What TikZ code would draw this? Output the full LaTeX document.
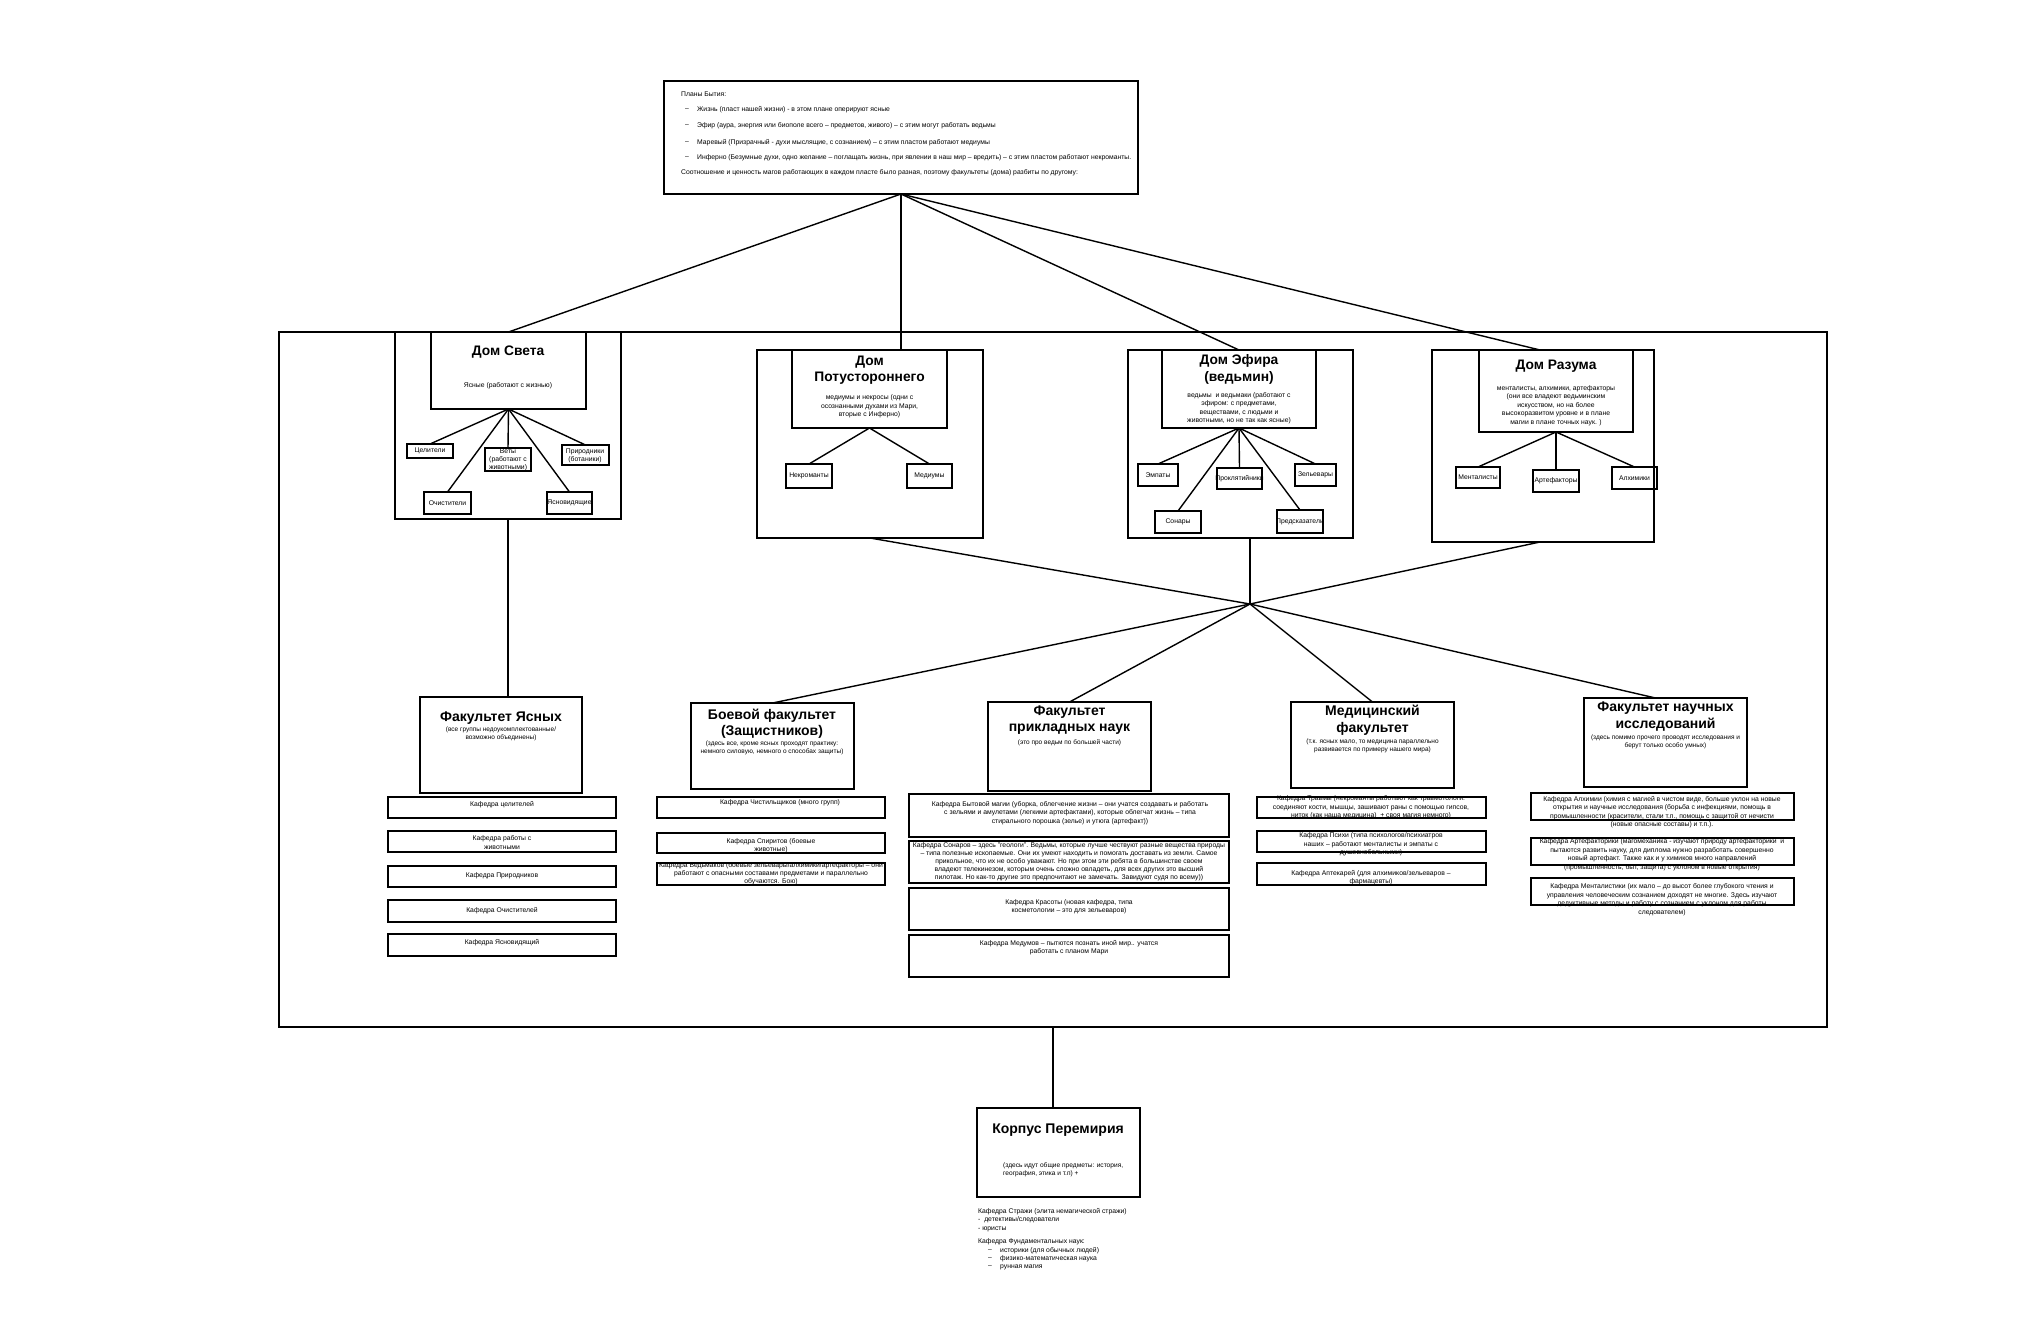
\documentclass[tikz,border=0pt]{standalone}
\usepackage{fontspec}
\setmainfont{Liberation Sans}
\tikzset{
  bx/.style={draw, line width=1.6pt, inner sep=0pt, outer sep=0pt},
  ln/.style={line width=1.4pt},
  sm/.style={font=\fontsize{6.8}{8.5}\selectfont, align=center, inner sep=0pt},
  tp/.style={font=\fontsize{6.8}{8}\selectfont, anchor=west, inner sep=0pt},
  ttl/.style={font=\fontsize{13.8}{16.5}\selectfont\bfseries, align=center, inner sep=0pt},
  ftl/.style={font=\fontsize{14}{16.5}\selectfont\bfseries, align=center, inner sep=0pt},
}
\newcommand\bx[5]{\node[bx, minimum width={(#4-#2)*1pt}, minimum height={(#5-#3)*1pt}] (#1) at ({(#2+#4)/2},{(#3+#5)/2}) {};}
\begin{document}
\begin{tikzpicture}[x=1pt,y=-1pt]
\fill[white] (0,0) rectangle (2040,1320);
\useasboundingbox (0,0) rectangle (2040,1320);

% ---------- top box ----------
\bx{top}{664}{81}{1138}{194}
\node[tp] (t1) at (681,94) {Планы Бытия:};
\node[tp] (b2) at (685,110) {–};
\node[tp] (t2) at (697,110) {Жизнь (пласт нашей жизни) - в этом плане оперируют ясные};
\node[tp] (b3) at (685,126) {–};
\node[tp] (t3) at (697,126) {Эфир (аура, энергия или биополе всего – предметов, живого) – с этим могут работать ведьмы};
\node[tp] (b4) at (685,143) {–};
\node[tp] (t4) at (697,143) {Маревый (Призрачный - духи мыслящие, с сознанием) – с этим пластом работают медиумы};
\node[tp] (b5) at (685,158) {–};
\node[tp] (t5) at (697,158) {Инферно (Безумные духи, одно желание – поглащать жизнь, при явлении в наш мир – вредить) – с этим пластом работают некроманты.};
\node[tp] (t6) at (681,173) {Соотношение и ценность магов работающих в каждом пласте было разная, поэтому факультеты (дома) разбиты по другому:};

% ---------- container ----------
\bx{cont}{279}{332}{1827}{1027}

% ---------- Дом Света ----------
\bx{sveto}{395}{332}{621}{519}
\bx{sveti}{431}{332}{586}{409}
\node[ttl] (svt) at (508,352) {Дом Света};
\node[sm] (svs) at (508,386) {Ясные (работают с жизнью)};
\bx{cel}{407}{444}{453}{458}
\bx{vet}{485}{448}{531}{471}
\bx{pri}{562}{445}{609}{465}
\bx{och}{424}{492}{471}{514}
\bx{yas}{547}{492}{592}{514}
\node[sm] (celt) at (cel) {Целители};
\node[sm, font=\fontsize{6.8}{8}\selectfont] (vett) at (508,460) {Веты\\(работают с\\животными)};
\node[sm] (prit) at (585,456) {Природники\\(ботаники)};
\node[sm] (ocht) at (och) {Очистители};
\node[sm] (yast) at (yas) {Ясновидящие};
\foreach \n in {cel,vet,pri,och,yas} \draw[ln] (sveti.south) -- (\n.north);

% ---------- Дом Потустороннего ----------
\bx{poto}{757}{350}{983}{538}
\bx{poti}{792}{350}{947}{428}
\node[ttl] (pott) at (869.5,370) {Дом\\Потустороннего};
\node[sm] (pots) at (869.5,406.5) {медиумы и некросы (одни с\\осознанными духами из Мари,\\вторые с Инферно)};
\bx{nek}{786}{464}{832}{488}
\bx{med}{907}{464}{952}{488}
\node[sm] (nekt) at (nek) {Некроманты};
\node[sm] (medt) at (med) {Медиумы};
\foreach \n in {nek,med} \draw[ln] (poti.south) -- (\n.north);

% ---------- Дом Эфира ----------
\bx{efo}{1128}{350}{1353}{538}
\bx{efi}{1162}{350}{1316}{428}
\node[ttl] (eft) at (1239,369.5) {Дом Эфира\\(ведьмин)};
\node[sm] (efs) at (1239,408) {ведьмы \ и ведьмаки (работают с\\эфиром: с предметами,\\веществами, с людьми и\\животными, но не так как ясные)};
\bx{emp}{1138}{464}{1178}{486}
\bx{pro}{1217}{468}{1262}{489}
\bx{zel}{1295}{464}{1336}{486}
\bx{son}{1155}{511}{1201}{533}
\bx{pre}{1277}{510}{1323}{533}
\node[sm] (empt) at (emp) {Эмпаты};
\node[sm] (prot) at (pro) {Проклятийники};
\node[sm] (zelt) at (zel) {Зельевары};
\node[sm] (sont) at (son) {Сонары};
\node[sm] (pret) at (pre) {Предсказатели};
\foreach \n in {emp,pro,zel,son,pre} \draw[ln] (efi.south) -- (\n.north);

% ---------- Дом Разума ----------
\bx{razo}{1432}{350}{1654}{542}
\bx{razi}{1479}{350}{1633}{432}
\node[ttl] (razt) at (1556,366) {Дом Разума};
\node[sm] (razs) at (1556,405.5) {менталисты, алхимики, артефакторы\\(они все владеют ведьминским\\искусством, но на более\\высокоразвитом уровне и в плане\\магии в плане точных наук. )};
\bx{men}{1456}{467}{1500}{488}
\bx{art}{1533}{470}{1579}{492}
\bx{alh}{1612}{467}{1657}{489}
\node[sm] (ment) at (men) {Менталисты};
\node[sm] (artt) at (art) {Артефакторы};
\node[sm] (alht) at (alh) {Алхимики};
\foreach \n in {men,art,alh} \draw[ln] (razi.south) -- (\n.north);

% ---------- top connectors ----------
\draw[ln] (top.south) -- (sveti.north);
\draw[ln] (top.south) -- (top.south |- poti.north);
\draw[ln] (top.south) -- (efi.north);
\draw[ln] (top.south) -- ([xshift=-16pt]razi.north);

% ---------- hub ----------
\coordinate (hub) at (1250,604);
\draw[ln] (poto.south) -- (hub);
\draw[ln] (hub |- efo.south) -- (hub);
\draw[ln] ([xshift=-3pt]razo.south) -- (hub);

% ---------- Факультет Ясных ----------
\bx{fyas}{420}{697}{582}{793}
\node[ftl] (fyt) at (501,718) {Факультет Ясных};
\node[sm, font=\fontsize{6.5}{8}\selectfont] (fys) at (501,734) {(все группы недоукомплектованные/\\возможно объединены)};
\bx{ky1}{388}{797}{616}{818}
\bx{ky2}{388}{831}{616}{852}
\bx{ky3}{388}{866}{616}{887}
\bx{ky4}{388}{900}{616}{922}
\bx{ky5}{388}{934}{616}{956}
\node[sm] (ky1t) at (502,805) {Кафедра целителей};
\node[sm] (ky2t) at (502,842.5) {Кафедра работы с\\животными};
\node[sm] (ky3t) at (502,876) {Кафедра Природников};
\node[sm] (ky4t) at (502,911) {Кафедра Очистителей};
\node[sm] (ky5t) at (502,943) {Кафедра Ясновидящий};
\draw[ln] (sveto.south) -- (sveto.south |- fyas.north);

% ---------- Боевой ----------
\bx{fboe}{691}{703}{854}{789}
\node[ftl] (fbt) at (772,723.5) {Боевой факультет\\(Защистников)};
\node[sm, font=\fontsize{6.5}{8}\selectfont] (fbs) at (772,747.5) {(здесь все, кроме ясных проходят практику:\\немного силовую, немного о способах защиты)};
\bx{kb1}{657}{797}{885}{818}
\bx{kb2}{657}{833}{885}{853}
\bx{kb3}{657}{863}{885}{885}
\node[sm] (kb1t) at (780,803) {Кафедра Чистильщиков (много групп)};
\node[sm] (kb2t) at (771,845.5) {Кафедра Спиритов (боевые\\животные)};
\node[sm, font=\fontsize{6.8}{8}\selectfont] (kb3t) at (771,874) {Кафедра Ведьмаков (боевые зельевары/алхимики/артефакторы – они\\работают с опасными составами предметами и параллельно\\обучаются. Бою)};
\draw[ln] (hub) -- (fboe.north);

% ---------- Прикладных ----------
\bx{fpri}{988}{702}{1151}{791}
\node[ftl] (fpt) at (1069.5,720) {Факультет\\прикладных наук};
\node[sm, font=\fontsize{6.5}{8}\selectfont] (fps) at (1069.5,743) {(это про ведьм по большей части)};
\bx{kp1}{909}{794}{1229}{837}
\bx{kp2}{909}{841}{1229}{883}
\bx{kp3}{909}{888}{1229}{930}
\bx{kp4}{909}{935}{1229}{977}
\node[sm] (kp1t) at (1070,813) {Кафедра Бытовой магии (уборка, облегчение жизни – они учатся создавать и работать\\с зельями и амулетами (легкими артефактами), которые облегчат жизнь – типа\\стирального порошка (зелье) и утюга (артефакт))};
\node[sm, font=\fontsize{6.8}{8}\selectfont] (kp2t) at (1069,862) {Кафедра Сонаров – здесь "геологи". Ведьмы, которые лучше чествуют разные вещества природы\\– типа полезные ископаемые. Они их умеют находить и помогать доставать из земли. Самое\\прикольное, что их не особо уважают. Но при этом эти ребята в большинстве своем\\владеют телекинезом, которым очень сложно овладеть, для всех других это высший\\пилотаж. Но как-то другие это предпочитают не замечать. Завидуют судя по всему))};
\node[sm] (kp3t) at (1069,906.5) {Кафедра Красоты (новая кафедра, типа\\косметологии – это для зельеваров)};
\node[sm] (kp4t) at (1069,947.5) {Кафедра Медумов – пытются познать иной мир.. учатся\\работать с планом Мари};
\draw[ln] (hub) -- (fpri.north);

% ---------- Медицинский ----------
\bx{fmed}{1291}{702}{1454}{788}
\node[ftl] (fmt) at (1372.5,720) {Медицинский\\факультет};
\node[sm, font=\fontsize{6.5}{8}\selectfont] (fms) at (1372.5,746) {(т.к. ясных мало, то медицина параллельно\\развивается по примеру нашего мира)};
\bx{km1}{1257}{797}{1486}{818}
\bx{km2}{1257}{831}{1486}{852}
\bx{km3}{1257}{863}{1486}{885}
\node[sm] (km1t) at (1371,807.5) {Кафедра Травмы (некроманты работают как травмотологи:\\соединяют кости, мышцы, зашивают раны с помощью гипсов,\\ниток (как наша медицина) \ + своя магия немного)};
\node[sm] (km2t) at (1371,844.5) {Кафедра Психи (типа психологов/психиатров\\наших – работают менталисты и эмпаты с\\душевнобольными)};
\node[sm] (km3t) at (1371,877.5) {Кафедра Аптекарей (для алхимиков/зельеваров –\\фармацевты)};
\draw[ln] (hub) -- (fmed.north);

% ---------- Научных ----------
\bx{fnau}{1584}{698}{1747}{787}
\node[ftl] (fnt) at (1665.5,716.5) {Факультет научных\\исследований};
\node[sm, font=\fontsize{6.5}{8}\selectfont] (fns) at (1665.5,742) {(здесь помимо прочего проводят исследования и\\берут только особо умных)};
\bx{kn1}{1531}{793}{1794}{820}
\bx{kn2}{1531}{838}{1794}{865}
\bx{kn3}{1531}{878}{1794}{905}
\node[sm] (kn1t) at (1662,812) {Кафедра Алхимии (химия с магией в чистом виде, больше уклон на новые\\открытия и научные исследования (борьба с инфекциями, помощь в\\промышленности (красители, стали т.п., помощь с защитой от нечисти\\(новые опасные составы) и т.п.).};
\node[sm] (kn2t) at (1662,854.5) {Кафедра Артефакторики (магомеханика - изучают природу артефакторики \ и\\пытаются развить науку, для диплома нужно разработать совершенно\\новый артефакт. Также как и у химиков много направлений\\(промышленность, быт, защита) с уклоном в новые открытия)};
\node[sm] (kn3t) at (1662,899.5) {Кафедра Менталистики (их мало – до высот более глубокого чтения и\\управления человеческим сознанием доходят не многие. Здесь изучают\\дедуктивные методы и работу с сознанием с уклоном для работы\\следователем)};
\draw[ln] (hub) -- ([xshift=-10pt]fnau.north);

% ---------- Корпус Перемирия ----------
\bx{korp}{977}{1108}{1140}{1197}
\node[ftl] (kot) at (1058,1130) {Корпус Перемирия};
\node[sm, align=left, anchor=north west, font=\fontsize{6.6}{8}\selectfont] (kos) at (1003,1162) {(здесь идут общие предметы: история,\\география, этика и т.п) +};
\draw[ln] (cont.south) -- (cont.south |- korp.north);
\node[sm, align=left, anchor=north west] (ko1) at (978,1208) {Кафедра Стражи (элита немагической стражи)\\- \ детективы/следователи\\- юристы};
\node[sm, anchor=north west] (ko2) at (978,1238) {Кафедра Фундаментальных наук:};
\node[sm, anchor=west] (kb1b) at (988,1251) {–};
\node[sm, anchor=west] (kb2b) at (988,1259) {–};
\node[sm, anchor=west] (kb3b) at (988,1267) {–};
\node[sm, anchor=west] (kf1) at (1000,1251) {историки (для обычных людей)};
\node[sm, anchor=west] (kf2) at (1000,1259) {физико-математическая наука};
\node[sm, anchor=west] (kf3) at (1000,1267) {рунная магия};
\end{tikzpicture}
\end{document}
